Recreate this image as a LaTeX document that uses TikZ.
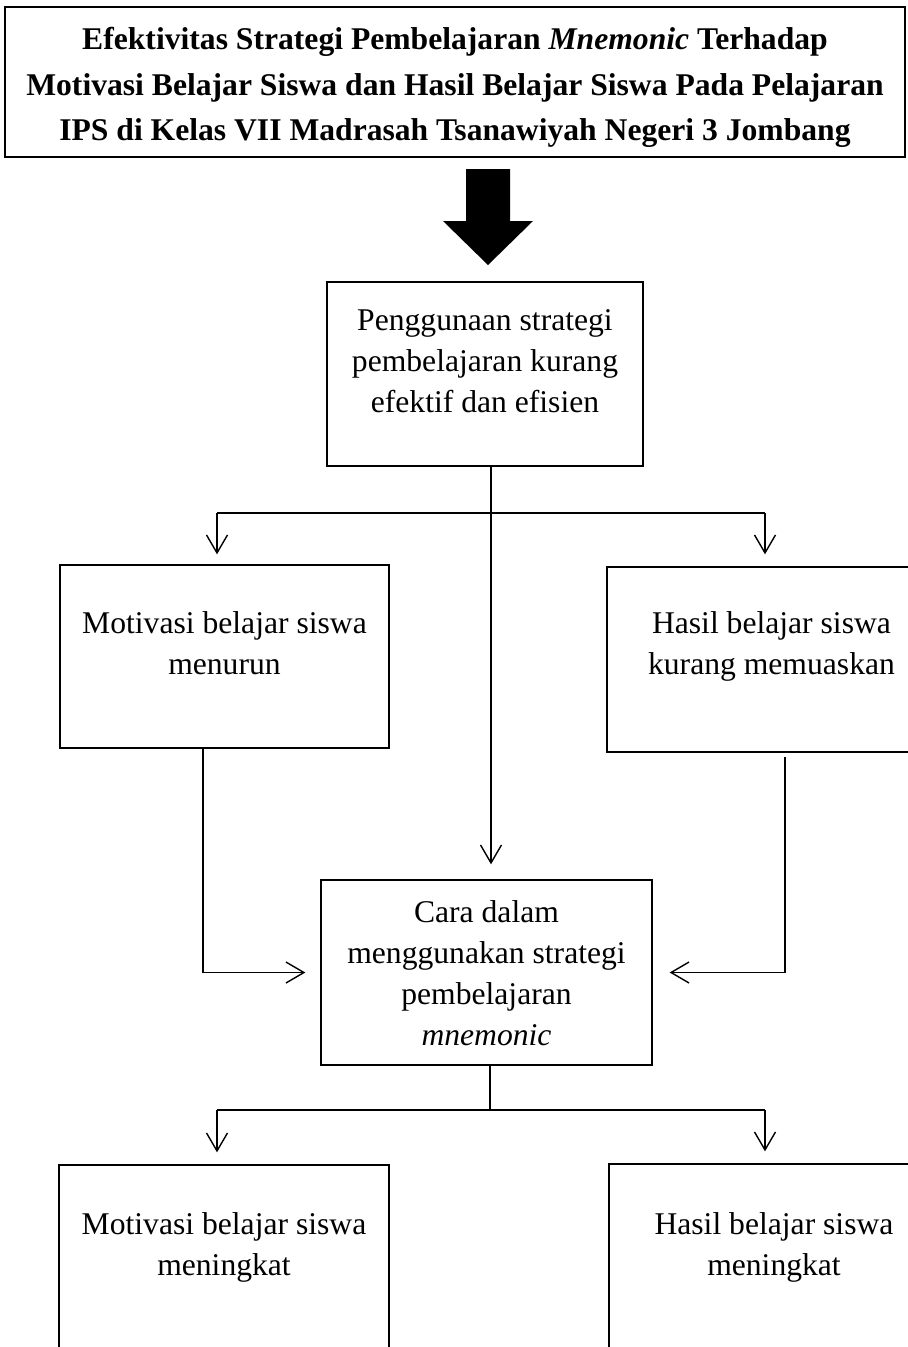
\documentclass[tikz,border=0pt]{standalone}
\usepackage{fontspec}
\setmainfont{Liberation Serif}
\usetikzlibrary{arrows.meta,positioning}
\tikzset{font=\fontsize{18}{23.3}\selectfont}
\tikzset{kotak/.style={draw,line width=0.8pt,inner sep=0pt}}
\tikzset{isi/.style={align=center,inner sep=0pt}}
\tikzset{panah/.style={-{Straight Barb[length=0.36cm,width=0.42cm]},line width=0.8pt}}

\begin{document}
\begin{tikzpicture}[x=0.02cm,y=-0.02cm]
\useasboundingbox (0,0) rectangle (908,1347);
% judul penelitian
\node[kotak,minimum width=18cm,minimum height=3cm] (judul) at (455,82) {};
\node[isi,font=\fontsize{18}{25.9}\selectfont\bfseries,below=0.42cm of judul.north] (judul-t)
 {Efektivitas Strategi Pembelajaran \textit{Mnemonic} Terhadap\\
  Motivasi Belajar Siswa dan Hasil Belajar Siswa Pada Pelajaran\\
  IPS di Kelas VII Madrasah Tsanawiyah Negeri 3 Jombang};
\fill (466,169) -- (510,169) -- (510,221) -- (533,221) -- (488,265) -- (443,221) -- (466,221) -- cycle;
% masalah
\node[kotak,minimum width=6.32cm,minimum height=3.68cm] (masalah) at (485,374) {};
\node[isi,below=0.56cm of masalah.north] (masalah-t)
 {Penggunaan strategi\\pembelajaran kurang\\efektif dan efisien};
\node[kotak,minimum width=6.58cm,minimum height=3.66cm] (motivasi1) at (224.5,656.5) {};
\node[isi,below=0.94cm of motivasi1.north] (motivasi1-t) {Motivasi belajar siswa\\menurun};
\node[kotak,minimum width=6.58cm,minimum height=3.7cm] (hasil1) at (771.5,659.5) {};
\node[isi,below=0.9cm of hasil1.north] (hasil1-t) {Hasil belajar siswa\\kurang memuaskan};
% solusi
\node[kotak,minimum width=6.62cm,minimum height=3.7cm] (cara) at (486.5,972.5) {};
\node[isi,below=0.42cm of cara.north] (cara-t)
 {Cara dalam\\menggunakan strategi\\pembelajaran\\\textit{mnemonic}};
% hasil akhir
\node[kotak,minimum width=6.6cm,minimum height=3.74cm] (motivasi2) at (224,1258.5) {};
\node[isi,below=0.96cm of motivasi2.north] (motivasi2-t) {Motivasi belajar siswa\\meningkat};
\node[kotak,minimum width=6.6cm,minimum height=3.76cm] (hasil2) at (774,1258) {};
\node[isi,below=0.98cm of hasil2.north] (hasil2-t) {Hasil belajar siswa\\meningkat};
% cabang atas
\coordinate (c1) at (491,513);
\coordinate (ki1) at (217,513);
\coordinate (ka1) at (765,513);
\draw[panah,shorten >=0.3cm] (masalah.south -| c1) -- (cara.north -| c1);
\draw[line width=0.8pt] (ki1) -- (ka1);
\draw[panah,shorten >=0.2cm] (ki1) -- (ki1 |- motivasi1.north);
\draw[panah,shorten >=0.24cm] (ka1) -- (ka1 |- hasil1.north);
% ke cara
\coordinate (ki2) at (203,748);
\coordinate (ka2) at (785,757);
\draw[panah,shorten >=0.3cm] (motivasi1.south -| ki2) |- (cara.west);
\draw[panah,shorten >=0.34cm] (ka2) |- (cara.east);
% cabang bawah
\coordinate (c2) at (490,1110);
\coordinate (ki3) at (217,1110);
\coordinate (ka3) at (765,1110);
\draw[line width=0.8pt] (cara.south -| c2) -- (c2);
\draw[line width=0.8pt] (ki3) -- (ka3);
\draw[panah,shorten >=0.24cm] (ki3) -- (ki3 |- motivasi2.north);
\draw[panah,shorten >=0.24cm] (ka3) -- (ka3 |- hasil2.north);
\end{tikzpicture}
\end{document}
